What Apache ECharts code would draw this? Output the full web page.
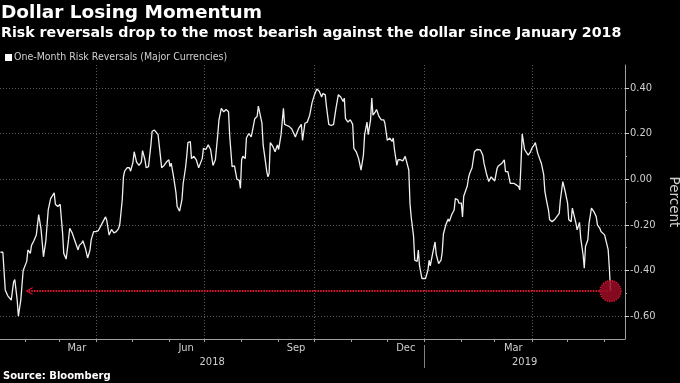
<!DOCTYPE html>
<html><head><meta charset="utf-8">
<script src="https://cdn.jsdelivr.net/npm/echarts@6/dist/echarts.min.js"></script>
<style>html,body{margin:0;padding:0;background:#000;}#c{width:680px;height:383px;}</style>
</head><body><div id="c"></div>
<script>
const titleText = 'Dollar Losing Momentum';
const subtitleText = 'Risk reversals drop to the most bearish against the dollar since January 2018';
const sourceText = 'Source: Bloomberg';
const seriesName = 'One-Month Risk Reversals (Major Currencies)';
const axisName = 'Percent';

// dates as day offsets since 2018-01-01
const days = [10,12,14,16,17,19,21,22,24,25,27,29,32,33,35,36,38,40,42,44,46,48,50,52,53,55,56,58,60,62,63,65,67,68,70,72,73,75,76,78,79,81,83,85,86,88,90,92,93,96,98,99,101,103,105,107,109,110,112,113,114,116,118,119,121,122,124,126,128,129,131,132,134,136,137,139,140,142,144,145,147,149,151,152,153,155,157,158,160,162,163,165,166,167,169,170,172,174,176,177,179,180,182,184,186,188,190,192,193,195,197,199,201,202,204,206,208,210,211,212,213,215,216,218,220,221,223,225,226,227,229,230,232,233,234,235,236,238,240,242,243,245,247,248,250,252,254,257,258,260,262,263,265,267,269,271,273,275,277,279,280,282,283,285,287,289,291,293,295,297,298,299,301,303,305,306,308,310,312,314,315,317,318,320,321,322,324,325,327,329,331,332,334,336,338,339,340,342,343,345,347,349,350,352,353,354,356,357,359,360,361,363,364,366,368,369,370,372,374,375,377,379,380,381,383,385,386,388,390,391,393,394,396,397,398,401,402,403,405,406,407,409,412,414,415,417,419,421,422,424,426,427,428,430,432,433,435,436,437,440,442,444,445,446,447,449,450,452,454,455,457,458,460,461,463,465,466,468,469,470,472,474,476,478,479,481,482,483,485,486,488,489,491,492,493,495,496,498,499,500,502,503,505,506,507,509,510,512,513,514,516,517,519,520,521];
const values = [-0.32,-0.32,-0.485,-0.51,-0.51,-0.53,-0.45,-0.44,-0.53,-0.60,-0.53,-0.40,-0.36,-0.31,-0.325,-0.29,-0.27,-0.245,-0.155,-0.22,-0.34,-0.27,-0.135,-0.085,-0.09,-0.06,-0.11,-0.12,-0.11,-0.235,-0.325,-0.35,-0.265,-0.215,-0.235,-0.265,-0.27,-0.31,-0.29,-0.28,-0.27,-0.30,-0.345,-0.31,-0.265,-0.23,-0.23,-0.225,-0.22,-0.185,-0.165,-0.18,-0.245,-0.22,-0.235,-0.23,-0.215,-0.195,-0.09,0.01,0.035,0.05,0.05,0.035,0.075,0.12,0.075,0.06,0.075,0.125,0.085,0.05,0.055,0.15,0.21,0.215,0.22,0.195,0.10,0.05,0.06,0.075,0.085,0.055,0.07,0.01,-0.06,-0.12,-0.14,-0.09,-0.02,0.05,0.10,0.16,0.165,0.09,0.10,0.085,0.05,0.055,0.09,0.135,0.13,0.15,0.13,0.06,0.085,0.195,0.26,0.31,0.295,0.305,0.295,0.19,0.055,0.058,0.0,-0.005,-0.04,0.085,0.10,0.09,0.18,0.20,0.185,0.21,0.265,0.275,0.32,0.32,0.245,0.15,0.075,0.035,0.01,0.025,0.16,0.145,0.12,0.15,0.13,0.195,0.31,0.24,0.235,0.23,0.22,0.185,0.20,0.225,0.24,0.17,0.245,0.25,0.28,0.335,0.37,0.395,0.385,0.36,0.375,0.37,0.32,0.24,0.235,0.24,0.31,0.37,0.36,0.34,0.355,0.265,0.25,0.26,0.24,0.135,0.12,0.09,0.04,0.105,0.195,0.25,0.195,0.26,0.355,0.28,0.295,0.305,0.275,0.26,0.26,0.245,0.17,0.18,0.165,0.18,0.13,0.06,0.085,0.085,0.08,0.10,0.105,0.04,-0.105,-0.165,-0.25,-0.355,-0.36,-0.31,-0.38,-0.435,-0.44,-0.435,-0.40,-0.355,-0.38,-0.325,-0.275,-0.33,-0.37,-0.355,-0.32,-0.24,-0.20,-0.175,-0.185,-0.155,-0.135,-0.085,-0.09,-0.105,-0.105,-0.165,-0.075,-0.03,0.005,0.025,0.05,0.048,0.12,0.13,0.128,0.105,0.07,0.025,-0.01,0.01,0.005,-0.008,0.048,0.058,0.055,0.07,0.085,0.033,0.033,0.025,-0.018,-0.018,-0.025,-0.032,-0.047,0.07,0.198,0.13,0.128,0.105,0.12,0.135,0.15,0.16,0.113,0.105,0.07,0.02,-0.055,-0.11,-0.135,-0.178,-0.186,-0.178,-0.164,-0.15,-0.09,-0.011,-0.003,-0.054,-0.105,-0.178,-0.186,-0.127,-0.171,-0.193,-0.222,-0.189,-0.258,-0.331,-0.39,-0.295,-0.265,-0.193,-0.127,-0.134,-0.142,-0.164,-0.20,-0.215,-0.229,-0.222,-0.244,-0.251,-0.309,-0.39,-0.49];

const monthLabels = ['Mar','Jun','Sep','Dec','Mar'];
const monthLabelDays = [74,165.5,257.5,349.5,439.5];
const yearLabels = ['2018','2019'];
const yTicks = [-0.6,-0.4,-0.2,0,0.2,0.4];
const yMinorTicks = [-0.5,-0.3,-0.1,0.1,0.3];
const xMin = 9.6, xMax = 533.1, yMin = -0.7, yMax = 0.5;
const arrowStartDay = 34;

const t0 = Date.UTC(2018,0,1);
const dayOf = (y,m) => (Date.UTC(y,m,1) - t0) / 864e5;
const monthTicks = [], quarterLines = [];
for (let y = 2018; y <= 2019; y++) for (let m = 0; m < 12; m++) {
  const d = dayOf(y,m);
  if (d > xMin && d < xMax) { monthTicks.push(d); if (m % 3 === 0) quarterLines.push(d); }
}
const yearStarts = yearLabels.map(y => dayOf(+y,0));
const yearCenters = yearLabels.map(y => (Math.max(xMin, dayOf(+y,0)) + Math.min(xMax, dayOf(+y+1,0))) / 2);
const yearSeparators = yearStarts.filter(d => d > xMin && d < xMax);
const nearest = (arr, v) => { let b = 0; arr.forEach((a,i) => { if (Math.abs(a-v) < Math.abs(arr[b]-v)) b = i; }); return b; };

const lastDay = days[days.length-1], lastVal = values[values.length-1];
const labelColor = '#cfcfcf';
const cond = '"DejaVu Sans Condensed", "DejaVu Sans", sans-serif';
const gridLine = {show:true, lineStyle:{color:'#5a5a5a', type:[1,2], width:1}};

const chart = echarts.init(document.getElementById('c'), null, {renderer:'canvas'});
chart.setOption({
  backgroundColor:'#000',
  animation:false,
  title:[
    {text:titleText, left:1, top:4, padding:0, textStyle:{color:'#fff', fontFamily:'DejaVu Sans', fontWeight:'bold', fontSize:18.5}},
    {text:subtitleText, left:1, top:26.5, padding:0, textStyle:{color:'#fff', fontFamily:'DejaVu Sans', fontWeight:'bold', fontSize:14.2}},
    {text:sourceText, left:3, top:371, padding:0, textStyle:{color:'#fff', fontFamily:'DejaVu Sans', fontWeight:'bold', fontSize:10}}
  ],
  legend:{left:5, top:52, padding:0, icon:'rect', itemWidth:7, itemHeight:7, itemGap:10,
    textStyle:{color:labelColor, fontFamily:cond, fontSize:10.5, padding:[0,0,0,-3]}, data:[seriesName]},
  grid:{left:0, right:55, top:65, bottom:44, containLabel:false, outerBoundsMode:'none'},
  xAxis:[
    {type:'value', min:xMin, max:xMax, position:'bottom',
      axisLine:{show:true, onZero:false, lineStyle:{color:'#a0a0a0'}},
      axisTick:{show:true, customValues:monthTicks, length:3, lineStyle:{color:'#a0a0a0'}},
      axisLabel:{customValues:monthLabelDays, formatter:v => monthLabels[nearest(monthLabelDays,v)], color:labelColor, fontFamily:cond, fontSize:11, margin:3.5},
      splitLine:{show:false}},
    {type:'value', min:xMin, max:xMax, position:'bottom',
      axisLine:{show:false, onZero:false}, axisTick:{show:false, customValues:quarterLines}, axisLabel:{show:false}, splitLine:gridLine},
    {type:'value', min:xMin, max:xMax, position:'bottom', offset:6,
      axisLine:{show:false, onZero:false},
      axisTick:{show:true, customValues:yearSeparators, length:23, lineStyle:{color:'#808080'}},
      axisLabel:{customValues:yearCenters, formatter:v => yearLabels[nearest(yearCenters,v)], color:labelColor, fontFamily:cond, fontSize:11, margin:12},
      splitLine:{show:false}}
  ],
  yAxis:[
    {type:'value', position:'right', min:yMin, max:yMax,
      axisLine:{show:true, onZero:false, lineStyle:{color:'#a0a0a0'}},
      axisTick:{show:true, customValues:yTicks, length:4, lineStyle:{color:'#d0d0d0'}},
      axisLabel:{customValues:yTicks, formatter:v => v.toFixed(2), color:labelColor, fontFamily:cond, fontSize:11, margin:5},
      splitLine:gridLine,
      name:axisName, nameLocation:'middle', nameRotate:-90, nameGap:39,
      nameTextStyle:{color:labelColor, fontFamily:'DejaVu Sans', fontSize:13.5}},
    {type:'value', position:'right', min:yMin, max:yMax,
      axisLine:{show:false, onZero:false}, axisTick:{show:true, customValues:yMinorTicks, length:2, lineStyle:{color:'#a0a0a0'}},
      axisLabel:{show:false}, splitLine:{show:false}}
  ],
  series:[{
    type:'line', name:seriesName, xAxisIndex:0, yAxisIndex:0,
    data:days.map((d,i) => [d, values[i]]),
    showSymbol:false, symbol:'none', color:'#ffffff',
    lineStyle:{color:'#f0f0f0', width:1.3},
    markLine:{silent:true, symbol:['none','path://M0,10 L5,0 L10,10 L8.4,10 L5,3 L1.6,10 Z'], symbolSize:[8,7],
      lineStyle:{color:'#e8122f', type:[1.5,1.2], width:1.8}, itemStyle:{color:'#e8122f'}, label:{show:false},
      data:[[{coord:[lastDay,lastVal]},{coord:[arrowStartDay,lastVal]}]]},
    markPoint:{silent:true, symbol:'circle', symbolSize:21,
      itemStyle:{color:'rgba(155,12,38,0.85)', borderColor:'#f0143c', borderType:'dotted', borderWidth:1.2},
      label:{show:false}, data:[{coord:[lastDay,lastVal]}]}
  }]
});
</script></body></html>
